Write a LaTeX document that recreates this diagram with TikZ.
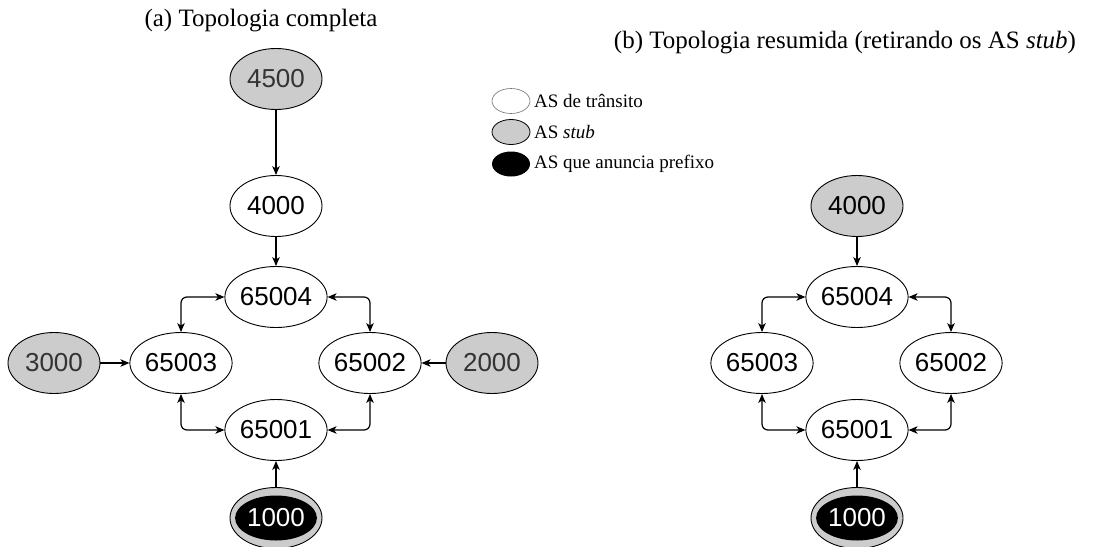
\documentclass[tikz,border=0pt]{standalone}
\usepackage{fontspec}
\setmainfont{Liberation Serif}
\newfontfamily\nodefont{Liberation Sans}
\usetikzlibrary{shapes.geometric,arrows.meta}
\definecolor{stubgray}{HTML}{CCCCCC}
\definecolor{stubtext}{HTML}{333333}
\tikzset{
  asnode/.style={ellipse, draw=black, line width=0.9pt, minimum width=92pt,
    minimum height=61pt, inner sep=0pt, font=\nodefont\fontsize{26}{26}\selectfont},
  transit/.style={asnode, fill=white},
  stubnode/.style={asnode, fill=stubgray, text=stubtext},
  originout/.style={asnode, fill=stubgray},
  originin/.style={ellipse, fill=black, draw=none, minimum width=67pt,
    minimum height=45pt, inner sep=0pt, text=white,
    font=\nodefont\fontsize{26}{26}\selectfont},
  link/.style={line width=1.2pt, -{Stealth[length=9pt,width=7.5pt,inset=2.5pt]}},
  peer/.style={line width=1.2pt, rounded corners=6pt,
    {Stealth[length=9pt,width=7.5pt,inset=2.5pt]}-{Stealth[length=9pt,width=7.5pt,inset=2.5pt]}},
  keymark/.style={ellipse, minimum width=38pt, minimum height=25pt, inner sep=0pt},
  keytext/.style={anchor=west, inner sep=0pt, font=\fontsize{19}{19}\selectfont},
  caption/.style={inner sep=0pt, font=\fontsize{25}{25}\selectfont}
}
\begin{document}
\begin{tikzpicture}[x=1pt, y=-1pt]
\useasboundingbox (0,0) rectangle (1108,546);

% panel titles
\node[caption] (ta) at (261,21) {(a) Topologia completa};
\node[caption] (tb) at (845,43) {(b) Topologia resumida (retirando os AS \textit{stub})};

% full topology
\node[stubnode] (a4500) at (276,79) {4500};
\node[transit] (a4000) at (276,206) {4000};
\node[transit] (a65004) at (276,297) {65004};
\node[transit] (a65003) at (181,363) {65003};
\node[transit] (a65002) at (370,363) {65002};
\node[stubnode] (a3000) at (54,363) {3000};
\node[stubnode] (a2000) at (492,363) {2000};
\node[transit] (a65001) at (276,430) {65001};
\node[originout] (a1000) at (276,518) {};
\node[originin] (a1000in) at (a1000) {1000};

\draw[link] (a4500) -- (a4000);
\draw[link] (a4000) -- (a65004);
\draw[link] (a3000) -- (a65003);
\draw[link] (a2000) -- (a65002);
\draw[link] (a1000) -- (a65001);
\draw[peer] (a65004.west) -| (a65003.north);
\draw[peer] (a65004.east) -| (a65002.north);
\draw[peer] (a65001.west) -| (a65003.south);
\draw[peer] (a65001.east) -| (a65002.south);

% legend
\node[keymark, draw=black!55, line width=0.6pt, fill=white] (k1) at (511,101) {};
\node[keytext] (k1t) at (534,101) {AS de trânsito};
\node[keymark, draw=black, line width=0.8pt, fill=stubgray] (k2) at (511,132) {};
\node[keytext] (k2t) at (534,132) {AS \textit{stub}};
\node[keymark, fill=black] (k3) at (511,164) {};
\node[keytext] (k3t) at (534,164) {AS que anuncia prefixo};

% summarized topology
\node[stubnode, text=black] (b4000) at (857,206) {4000};
\node[transit] (b65004) at (857,297) {65004};
\node[transit] (b65003) at (762,363) {65003};
\node[transit] (b65002) at (951,363) {65002};
\node[transit] (b65001) at (857,430) {65001};
\node[originout] (b1000) at (857,518) {};
\node[originin] (b1000in) at (b1000) {1000};

\draw[link] (b4000) -- (b65004);
\draw[link] (b1000) -- (b65001);
\draw[peer] (b65004.west) -| (b65003.north);
\draw[peer] (b65004.east) -| (b65002.north);
\draw[peer] (b65001.west) -| (b65003.south);
\draw[peer] (b65001.east) -| (b65002.south);
\end{tikzpicture}
\end{document}
